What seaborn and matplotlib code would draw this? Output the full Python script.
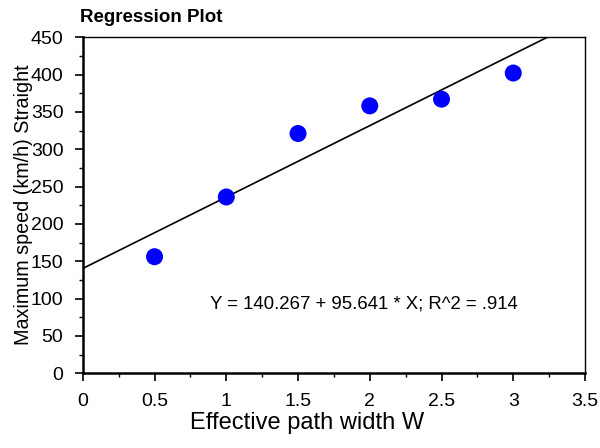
import matplotlib
matplotlib.use("Agg")
import matplotlib.pyplot as plt
from matplotlib.ticker import MultipleLocator
import seaborn as sns
import numpy as np
import pandas as pd

width_w = [0.5, 1.0, 1.5, 2.0, 2.5, 3.0]
speed = [156, 236, 321, 358, 367, 402]
intercept = 140.267
slope = 95.641
equation = "Y = 140.267 + 95.641 * X; R^2 = .914"
x_ticks = [0, 0.5, 1, 1.5, 2, 2.5, 3, 3.5]
x_tick_labels = ["0", "0.5", "1", "1.5", "2", "2.5", "3", "3.5"]

sns.set_style("ticks")
plt.rcParams['font.family'] = ['Liberation Sans', 'DejaVu Sans']
plt.rcParams['text.color'] = 'black'
plt.rcParams['axes.labelcolor'] = 'black'
plt.rcParams['xtick.color'] = 'black'
plt.rcParams['ytick.color'] = 'black'

fig = plt.figure(figsize=(6, 4.48), dpi=100)
ax = fig.add_axes([0.138, 0.167, 0.837, 0.75])

line_x = np.array([0.0, 3.5])
line_df = pd.DataFrame({"x": line_x, "y": intercept + slope * line_x})
sns.lineplot(data=line_df, x="x", y="y", color="black", linewidth=1.2, ax=ax)

df = pd.DataFrame({"W": width_w, "speed": speed})
sns.scatterplot(data=df, x="W", y="speed", color="#0000ff", s=150,
                edgecolor="none", ax=ax, zorder=3)

ax.set_xlim(0, 3.5)
ax.set_ylim(0, 450)
ax.set_xticks(x_ticks)
ax.set_xticklabels(x_tick_labels)
ax.xaxis.set_minor_locator(MultipleLocator(0.25))
ax.yaxis.set_major_locator(MultipleLocator(50))
ax.yaxis.set_minor_locator(MultipleLocator(25))

ax.tick_params(axis="both", which="major", direction="out", length=6, width=1.2,
               labelsize=14, colors="black", pad=8)
ax.tick_params(axis="both", which="minor", direction="out", length=3, width=1)

for side in ["left", "bottom"]:
    ax.spines[side].set_linewidth(1.8)
for side in ["top", "right"]:
    ax.spines[side].set_visible(True)
    ax.spines[side].set_linewidth(1.0)
for s in ax.spines.values():
    s.set_color("black")

ax.set_xlabel("Effective path width W", fontsize=17)
ax.set_ylabel("Maximum speed (km/h) Straight", fontsize=14.2)
ax.xaxis.set_label_coords(0.446, -0.115)
ax.yaxis.set_label_coords(-0.1, 0.5)
ax.text(0.885, 92, equation, fontsize=13.4, va="center", ha="left")
fig.text(0.133, 0.962, "Regression Plot", fontsize=13.5, fontweight="bold",
         va="center", ha="left")

fig.savefig("out.png", dpi=100)
